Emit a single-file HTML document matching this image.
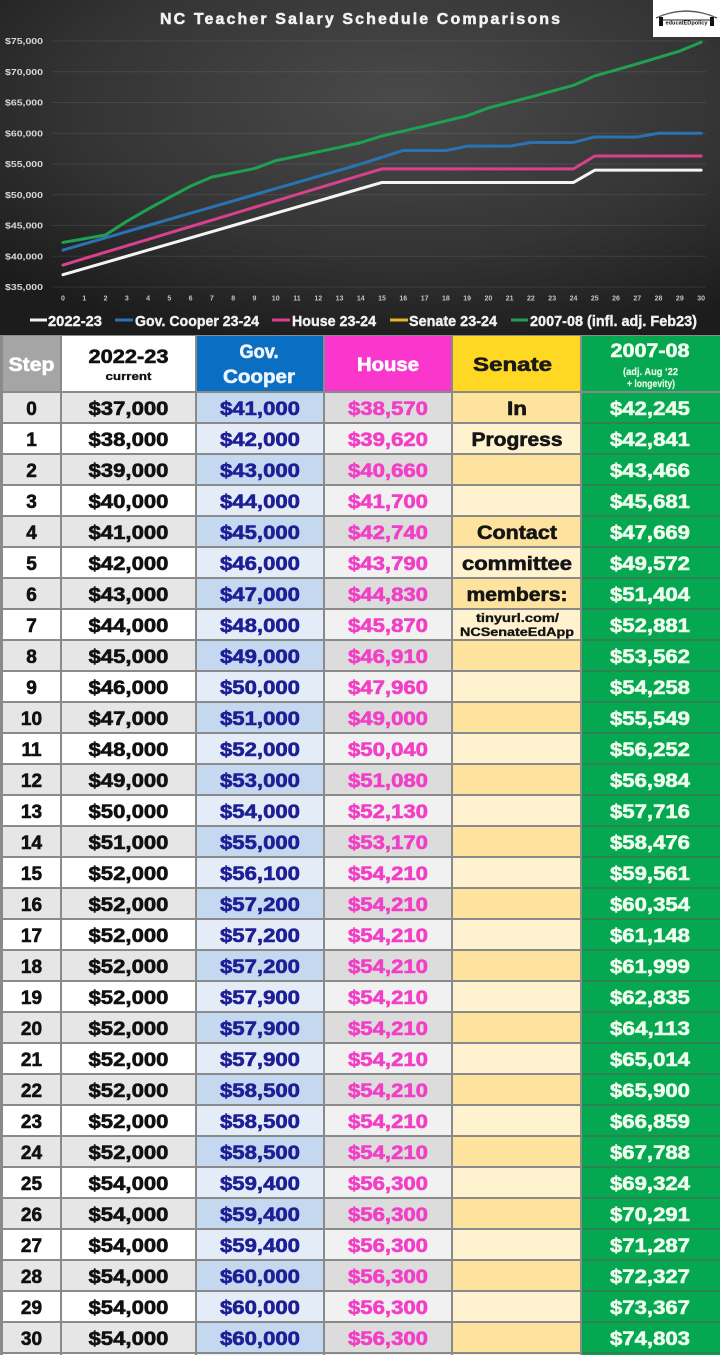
<!DOCTYPE html>
<html><head><meta charset="utf-8"><style>html,body{margin:0;padding:0;background:#2a2a2a}svg{display:block}</style></head><body>
<svg width="720" height="1355" viewBox="0 0 720 1355" xmlns="http://www.w3.org/2000/svg" font-family="'Liberation Sans', Arial, sans-serif" font-weight="bold">
<defs>
<radialGradient id="bg" cx="0.56" cy="0.3" r="0.75">
<stop offset="0" stop-color="#4a4a4a"/><stop offset="0.6" stop-color="#343434"/><stop offset="1" stop-color="#1c1c1c"/>
</radialGradient>
<pattern id="pWhite" patternUnits="userSpaceOnUse" x="0" y="393" width="720" height="62"><rect x="0" y="0" width="720" height="29" fill="#e6e6e6"/><rect x="0" y="31" width="720" height="29" fill="#ffffff"/></pattern>
<pattern id="pCoop" patternUnits="userSpaceOnUse" x="0" y="393" width="720" height="62"><rect x="0" y="0" width="720" height="29" fill="#c4d8ef"/><rect x="0" y="31" width="720" height="29" fill="#e3ecf7"/></pattern>
<pattern id="pHouse" patternUnits="userSpaceOnUse" x="0" y="393" width="720" height="62"><rect x="0" y="0" width="720" height="29" fill="#dcdcdc"/><rect x="0" y="31" width="720" height="29" fill="#f1f1f1"/></pattern>
<pattern id="pSen" patternUnits="userSpaceOnUse" x="0" y="393" width="720" height="62"><rect x="0" y="0" width="720" height="29" fill="#fde39d"/><rect x="0" y="31" width="720" height="29" fill="#fff2cf"/></pattern>
<pattern id="pGreen" patternUnits="userSpaceOnUse" x="0" y="393" width="720" height="31"><rect x="0" y="0" width="720" height="29" fill="#05a750"/><rect x="0" y="29" width="720" height="2" fill="#2e8150"/></pattern>
</defs>

<rect x="0" y="0" width="720" height="336" fill="url(#bg)"/>

<g stroke="#ffffff" stroke-opacity="0.09" stroke-width="1">
<line x1="52" y1="41" x2="706" y2="41"/><line x1="52" y1="71.75" x2="706" y2="71.75"/><line x1="52" y1="102.5" x2="706" y2="102.5"/><line x1="52" y1="133.25" x2="706" y2="133.25"/><line x1="52" y1="164" x2="706" y2="164"/><line x1="52" y1="194.75" x2="706" y2="194.75"/><line x1="52" y1="225.5" x2="706" y2="225.5"/><line x1="52" y1="256.25" x2="706" y2="256.25"/><line x1="52" y1="287" x2="706" y2="287"/>
</g>

<g fill="#d8d8d8" font-size="8">
<text x="5" y="44" textLength="38" lengthAdjust="spacingAndGlyphs">$75,000</text>
<text x="5" y="74.75" textLength="38" lengthAdjust="spacingAndGlyphs">$70,000</text>
<text x="5" y="105.5" textLength="38" lengthAdjust="spacingAndGlyphs">$65,000</text>
<text x="5" y="136.25" textLength="38" lengthAdjust="spacingAndGlyphs">$60,000</text>
<text x="5" y="167" textLength="38" lengthAdjust="spacingAndGlyphs">$55,000</text>
<text x="5" y="197.75" textLength="38" lengthAdjust="spacingAndGlyphs">$50,000</text>
<text x="5" y="228.5" textLength="38" lengthAdjust="spacingAndGlyphs">$45,000</text>
<text x="5" y="259.25" textLength="38" lengthAdjust="spacingAndGlyphs">$40,000</text>
<text x="5" y="290" textLength="38" lengthAdjust="spacingAndGlyphs">$35,000</text>
</g>

<g fill="#c4c4c4" font-size="7" text-anchor="middle">
<text x="63" y="300.5">0</text><text x="84.27" y="300.5">1</text><text x="105.54" y="300.5">2</text><text x="126.81" y="300.5">3</text><text x="148.08" y="300.5">4</text><text x="169.35" y="300.5">5</text><text x="190.62" y="300.5">6</text><text x="211.89" y="300.5">7</text><text x="233.16" y="300.5">8</text><text x="254.43" y="300.5">9</text><text x="275.7" y="300.5">10</text><text x="296.97" y="300.5">11</text><text x="318.24" y="300.5">12</text><text x="339.51" y="300.5">13</text><text x="360.78" y="300.5">14</text><text x="382.05" y="300.5">15</text><text x="403.32" y="300.5">16</text><text x="424.59" y="300.5">17</text><text x="445.86" y="300.5">18</text><text x="467.13" y="300.5">19</text><text x="488.4" y="300.5">20</text><text x="509.67" y="300.5">21</text><text x="530.94" y="300.5">22</text><text x="552.21" y="300.5">23</text><text x="573.48" y="300.5">24</text><text x="594.75" y="300.5">25</text><text x="616.02" y="300.5">26</text><text x="637.29" y="300.5">27</text><text x="658.56" y="300.5">28</text><text x="679.83" y="300.5">29</text><text x="701.1" y="300.5">30</text>
</g>

<g fill="none" stroke-width="3" stroke-linejoin="round" stroke-linecap="round">
<polyline stroke="#f4f4f4" points="63,274.7 84.27,268.55 105.54,262.4 126.81,256.25 148.08,250.1 169.35,243.95 190.62,237.8 211.89,231.65 233.16,225.5 254.43,219.35 275.7,213.2 296.97,207.05 318.24,200.9 339.51,194.75 360.78,188.6 382.05,182.45 403.32,182.45 424.59,182.45 445.86,182.45 467.13,182.45 488.4,182.45 509.67,182.45 530.94,182.45 552.21,182.45 573.48,182.45 594.75,170.15 616.02,170.15 637.29,170.15 658.56,170.15 679.83,170.15 701.1,170.15"/>
<polyline stroke="#d9408e" points="63,265.04 84.27,258.59 105.54,252.19 126.81,245.8 148.08,239.4 169.35,232.94 190.62,226.55 211.89,220.15 233.16,213.75 254.43,207.3 275.7,200.9 296.97,194.5 318.24,188.11 339.51,181.65 360.78,175.25 382.05,168.86 403.32,168.86 424.59,168.86 445.86,168.86 467.13,168.86 488.4,168.86 509.67,168.86 530.94,168.86 552.21,168.86 573.48,168.86 594.75,156 616.02,156 637.29,156 658.56,156 679.83,156 701.1,156"/>
<polyline stroke="#2b72b4" points="63,250.1 84.27,243.95 105.54,237.8 126.81,231.65 148.08,225.5 169.35,219.35 190.62,213.2 211.89,207.05 233.16,200.9 254.43,194.75 275.7,188.6 296.97,182.45 318.24,176.3 339.51,170.15 360.78,164 382.05,157.23 403.32,150.47 424.59,150.47 445.86,150.47 467.13,146.17 488.4,146.17 509.67,146.17 530.94,142.48 552.21,142.48 573.48,142.48 594.75,136.94 616.02,136.94 637.29,136.94 658.56,133.25 679.83,133.25 701.1,133.25"/>
<polyline stroke="#1fa152" points="63,242.44 84.27,238.78 105.54,234.93 126.81,221.31 148.08,209.09 169.35,197.38 190.62,186.12 211.89,177.03 233.16,172.84 254.43,168.56 275.7,160.62 296.97,156.3 318.24,151.8 339.51,147.3 360.78,142.62 382.05,135.95 403.32,131.07 424.59,126.19 445.86,120.96 467.13,115.81 488.4,107.96 509.67,102.41 530.94,96.96 552.21,91.07 573.48,85.35 594.75,75.91 616.02,69.96 637.29,63.83 658.56,57.44 679.83,51.04 701.1,42.21"/>
</g>

<text x="360" y="24" fill="#f2f2f2" stroke="#f2f2f2" stroke-width="0.5" font-size="16" text-anchor="middle" textLength="400" lengthAdjust="spacing">NC Teacher Salary Schedule Comparisons</text>

<rect x="653" y="0" width="67" height="37" fill="#ffffff"/>
<path d="M656,18 Q686,4 717,18" fill="none" stroke="#333" stroke-width="1.2"/>
<path d="M658,17 Q686,6 715,17" fill="none" stroke="#777" stroke-width="0.8"/>
<rect x="659" y="17" width="4" height="9" fill="#111"/>
<rect x="710" y="17" width="4" height="9" fill="#111"/>
<line x1="659" y1="20" x2="714" y2="20" stroke="#222" stroke-width="1"/>
<text x="686.5" y="24.5" fill="#111" font-size="5" text-anchor="middle" textLength="42" lengthAdjust="spacingAndGlyphs">educatEDpolicy</text>

<g stroke-width="3">
<line x1="30" y1="320" x2="47" y2="320" stroke="#f4f4f4"/>
<line x1="115" y1="320" x2="133" y2="320" stroke="#2b72b4"/>
<line x1="272" y1="320" x2="290" y2="320" stroke="#d9408e"/>
<line x1="390" y1="320" x2="408" y2="320" stroke="#e3b52a"/>
<line x1="511" y1="320" x2="528" y2="320" stroke="#1fa152"/>
</g>
<g fill="#f0f0f0" stroke="#f0f0f0" stroke-width="0.4" font-size="15">
<text x="48" y="326" textLength="54" lengthAdjust="spacingAndGlyphs">2022-23</text>
<text x="135" y="326" textLength="124" lengthAdjust="spacingAndGlyphs">Gov. Cooper 23-24</text>
<text x="292" y="326" textLength="84" lengthAdjust="spacingAndGlyphs">House 23-24</text>
<text x="409" y="326" textLength="88" lengthAdjust="spacingAndGlyphs">Senate 23-24</text>
<text x="530" y="326" textLength="167" lengthAdjust="spacingAndGlyphs">2007-08 (infl. adj. Feb23)</text>
</g>

<rect x="0" y="335" width="720" height="1020" fill="#8a8a8a"/>
<rect x="3" y="336" width="57" height="55" fill="#a5a5a5"/>
<rect x="62" y="336" width="133" height="55" fill="#ffffff"/>
<rect x="197" y="336" width="126" height="55" fill="#0a6fc2"/>
<rect x="325" y="336" width="126" height="55" fill="#fb36cc"/>
<rect x="453" y="336" width="127" height="55" fill="#fed823"/>
<rect x="582" y="336" width="138" height="55" fill="#05a750"/>
<rect x="3" y="393" width="57" height="962" fill="url(#pWhite)"/>
<rect x="62" y="393" width="133" height="962" fill="url(#pWhite)"/>
<rect x="197" y="393" width="126" height="962" fill="url(#pCoop)"/>
<rect x="325" y="393" width="126" height="962" fill="url(#pHouse)"/>
<rect x="453" y="393" width="127" height="962" fill="url(#pSen)"/>
<rect x="582" y="393" width="138" height="962" fill="url(#pGreen)"/>

<g font-size="19" text-anchor="middle" stroke-width="0.6">
<text x="31.5" y="371" fill="#ffffff" stroke="#ffffff" textLength="46" lengthAdjust="spacingAndGlyphs">Step</text>
<text x="128.5" y="363" fill="#111" stroke="#111" textLength="80" lengthAdjust="spacingAndGlyphs">2022-23</text>
<text x="128.5" y="380" fill="#111" stroke="#111" stroke-width="0.3" font-size="11" textLength="46" lengthAdjust="spacingAndGlyphs">current</text>
<text x="259" y="358" fill="#eef4fb" stroke="#eef4fb" textLength="39" lengthAdjust="spacingAndGlyphs">Gov.</text>
<text x="259" y="383" fill="#eef4fb" stroke="#eef4fb" textLength="72" lengthAdjust="spacingAndGlyphs">Cooper</text>
<text x="388" y="371" fill="#ffffff" stroke="#ffffff" textLength="62" lengthAdjust="spacingAndGlyphs">House</text>
<text x="512.5" y="371" fill="#1a1a1a" stroke="#1a1a1a" textLength="79" lengthAdjust="spacingAndGlyphs">Senate</text>
<text x="650" y="357" fill="#f0fff0" stroke="#f0fff0" textLength="79" lengthAdjust="spacingAndGlyphs">2007-08</text>
<text x="650.5" y="375" fill="#e8f8e8" stroke="#e8f8e8" stroke-width="0.2" font-size="10" textLength="55" lengthAdjust="spacingAndGlyphs">(adj. Aug ‘22</text>
<text x="651" y="387" fill="#e8f8e8" stroke="#e8f8e8" stroke-width="0.2" font-size="10" textLength="48" lengthAdjust="spacingAndGlyphs">+ longevity)</text>
</g>

<g font-size="19" text-anchor="middle" fill="#111" stroke="#111" stroke-width="0.6">
<text x="31.5" y="415">0</text><text x="31.5" y="446">1</text><text x="31.5" y="477">2</text><text x="31.5" y="508">3</text><text x="31.5" y="539">4</text><text x="31.5" y="570">5</text><text x="31.5" y="601">6</text><text x="31.5" y="632">7</text><text x="31.5" y="663">8</text><text x="31.5" y="694">9</text><text x="31.5" y="725">10</text><text x="31.5" y="756">11</text><text x="31.5" y="787">12</text><text x="31.5" y="818">13</text><text x="31.5" y="849">14</text><text x="31.5" y="880">15</text><text x="31.5" y="911">16</text><text x="31.5" y="942">17</text><text x="31.5" y="973">18</text><text x="31.5" y="1004">19</text><text x="31.5" y="1035">20</text><text x="31.5" y="1066">21</text><text x="31.5" y="1097">22</text><text x="31.5" y="1128">23</text><text x="31.5" y="1159">24</text><text x="31.5" y="1190">25</text><text x="31.5" y="1221">26</text><text x="31.5" y="1252">27</text><text x="31.5" y="1283">28</text><text x="31.5" y="1314">29</text><text x="31.5" y="1345">30</text>
</g>

<g font-size="19" text-anchor="middle" fill="#111" stroke="#111" stroke-width="0.6">
<text x="128.5" y="415" textLength="80" lengthAdjust="spacingAndGlyphs">$37,000</text>
<text x="128.5" y="446" textLength="80" lengthAdjust="spacingAndGlyphs">$38,000</text>
<text x="128.5" y="477" textLength="80" lengthAdjust="spacingAndGlyphs">$39,000</text>
<text x="128.5" y="508" textLength="80" lengthAdjust="spacingAndGlyphs">$40,000</text>
<text x="128.5" y="539" textLength="80" lengthAdjust="spacingAndGlyphs">$41,000</text>
<text x="128.5" y="570" textLength="80" lengthAdjust="spacingAndGlyphs">$42,000</text>
<text x="128.5" y="601" textLength="80" lengthAdjust="spacingAndGlyphs">$43,000</text>
<text x="128.5" y="632" textLength="80" lengthAdjust="spacingAndGlyphs">$44,000</text>
<text x="128.5" y="663" textLength="80" lengthAdjust="spacingAndGlyphs">$45,000</text>
<text x="128.5" y="694" textLength="80" lengthAdjust="spacingAndGlyphs">$46,000</text>
<text x="128.5" y="725" textLength="80" lengthAdjust="spacingAndGlyphs">$47,000</text>
<text x="128.5" y="756" textLength="80" lengthAdjust="spacingAndGlyphs">$48,000</text>
<text x="128.5" y="787" textLength="80" lengthAdjust="spacingAndGlyphs">$49,000</text>
<text x="128.5" y="818" textLength="80" lengthAdjust="spacingAndGlyphs">$50,000</text>
<text x="128.5" y="849" textLength="80" lengthAdjust="spacingAndGlyphs">$51,000</text>
<text x="128.5" y="880" textLength="80" lengthAdjust="spacingAndGlyphs">$52,000</text>
<text x="128.5" y="911" textLength="80" lengthAdjust="spacingAndGlyphs">$52,000</text>
<text x="128.5" y="942" textLength="80" lengthAdjust="spacingAndGlyphs">$52,000</text>
<text x="128.5" y="973" textLength="80" lengthAdjust="spacingAndGlyphs">$52,000</text>
<text x="128.5" y="1004" textLength="80" lengthAdjust="spacingAndGlyphs">$52,000</text>
<text x="128.5" y="1035" textLength="80" lengthAdjust="spacingAndGlyphs">$52,000</text>
<text x="128.5" y="1066" textLength="80" lengthAdjust="spacingAndGlyphs">$52,000</text>
<text x="128.5" y="1097" textLength="80" lengthAdjust="spacingAndGlyphs">$52,000</text>
<text x="128.5" y="1128" textLength="80" lengthAdjust="spacingAndGlyphs">$52,000</text>
<text x="128.5" y="1159" textLength="80" lengthAdjust="spacingAndGlyphs">$52,000</text>
<text x="128.5" y="1190" textLength="80" lengthAdjust="spacingAndGlyphs">$54,000</text>
<text x="128.5" y="1221" textLength="80" lengthAdjust="spacingAndGlyphs">$54,000</text>
<text x="128.5" y="1252" textLength="80" lengthAdjust="spacingAndGlyphs">$54,000</text>
<text x="128.5" y="1283" textLength="80" lengthAdjust="spacingAndGlyphs">$54,000</text>
<text x="128.5" y="1314" textLength="80" lengthAdjust="spacingAndGlyphs">$54,000</text>
<text x="128.5" y="1345" textLength="80" lengthAdjust="spacingAndGlyphs">$54,000</text>
</g>

<g font-size="19" text-anchor="middle" fill="#1e1e96" stroke="#1e1e96" stroke-width="0.6">
<text x="260" y="415" textLength="80" lengthAdjust="spacingAndGlyphs">$41,000</text>
<text x="260" y="446" textLength="80" lengthAdjust="spacingAndGlyphs">$42,000</text>
<text x="260" y="477" textLength="80" lengthAdjust="spacingAndGlyphs">$43,000</text>
<text x="260" y="508" textLength="80" lengthAdjust="spacingAndGlyphs">$44,000</text>
<text x="260" y="539" textLength="80" lengthAdjust="spacingAndGlyphs">$45,000</text>
<text x="260" y="570" textLength="80" lengthAdjust="spacingAndGlyphs">$46,000</text>
<text x="260" y="601" textLength="80" lengthAdjust="spacingAndGlyphs">$47,000</text>
<text x="260" y="632" textLength="80" lengthAdjust="spacingAndGlyphs">$48,000</text>
<text x="260" y="663" textLength="80" lengthAdjust="spacingAndGlyphs">$49,000</text>
<text x="260" y="694" textLength="80" lengthAdjust="spacingAndGlyphs">$50,000</text>
<text x="260" y="725" textLength="80" lengthAdjust="spacingAndGlyphs">$51,000</text>
<text x="260" y="756" textLength="80" lengthAdjust="spacingAndGlyphs">$52,000</text>
<text x="260" y="787" textLength="80" lengthAdjust="spacingAndGlyphs">$53,000</text>
<text x="260" y="818" textLength="80" lengthAdjust="spacingAndGlyphs">$54,000</text>
<text x="260" y="849" textLength="80" lengthAdjust="spacingAndGlyphs">$55,000</text>
<text x="260" y="880" textLength="80" lengthAdjust="spacingAndGlyphs">$56,100</text>
<text x="260" y="911" textLength="80" lengthAdjust="spacingAndGlyphs">$57,200</text>
<text x="260" y="942" textLength="80" lengthAdjust="spacingAndGlyphs">$57,200</text>
<text x="260" y="973" textLength="80" lengthAdjust="spacingAndGlyphs">$57,200</text>
<text x="260" y="1004" textLength="80" lengthAdjust="spacingAndGlyphs">$57,900</text>
<text x="260" y="1035" textLength="80" lengthAdjust="spacingAndGlyphs">$57,900</text>
<text x="260" y="1066" textLength="80" lengthAdjust="spacingAndGlyphs">$57,900</text>
<text x="260" y="1097" textLength="80" lengthAdjust="spacingAndGlyphs">$58,500</text>
<text x="260" y="1128" textLength="80" lengthAdjust="spacingAndGlyphs">$58,500</text>
<text x="260" y="1159" textLength="80" lengthAdjust="spacingAndGlyphs">$58,500</text>
<text x="260" y="1190" textLength="80" lengthAdjust="spacingAndGlyphs">$59,400</text>
<text x="260" y="1221" textLength="80" lengthAdjust="spacingAndGlyphs">$59,400</text>
<text x="260" y="1252" textLength="80" lengthAdjust="spacingAndGlyphs">$59,400</text>
<text x="260" y="1283" textLength="80" lengthAdjust="spacingAndGlyphs">$60,000</text>
<text x="260" y="1314" textLength="80" lengthAdjust="spacingAndGlyphs">$60,000</text>
<text x="260" y="1345" textLength="80" lengthAdjust="spacingAndGlyphs">$60,000</text>
</g>

<g font-size="19" text-anchor="middle" fill="#f23fc6" stroke="#f23fc6" stroke-width="0.6">
<text x="388" y="415" textLength="80" lengthAdjust="spacingAndGlyphs">$38,570</text>
<text x="388" y="446" textLength="80" lengthAdjust="spacingAndGlyphs">$39,620</text>
<text x="388" y="477" textLength="80" lengthAdjust="spacingAndGlyphs">$40,660</text>
<text x="388" y="508" textLength="80" lengthAdjust="spacingAndGlyphs">$41,700</text>
<text x="388" y="539" textLength="80" lengthAdjust="spacingAndGlyphs">$42,740</text>
<text x="388" y="570" textLength="80" lengthAdjust="spacingAndGlyphs">$43,790</text>
<text x="388" y="601" textLength="80" lengthAdjust="spacingAndGlyphs">$44,830</text>
<text x="388" y="632" textLength="80" lengthAdjust="spacingAndGlyphs">$45,870</text>
<text x="388" y="663" textLength="80" lengthAdjust="spacingAndGlyphs">$46,910</text>
<text x="388" y="694" textLength="80" lengthAdjust="spacingAndGlyphs">$47,960</text>
<text x="388" y="725" textLength="80" lengthAdjust="spacingAndGlyphs">$49,000</text>
<text x="388" y="756" textLength="80" lengthAdjust="spacingAndGlyphs">$50,040</text>
<text x="388" y="787" textLength="80" lengthAdjust="spacingAndGlyphs">$51,080</text>
<text x="388" y="818" textLength="80" lengthAdjust="spacingAndGlyphs">$52,130</text>
<text x="388" y="849" textLength="80" lengthAdjust="spacingAndGlyphs">$53,170</text>
<text x="388" y="880" textLength="80" lengthAdjust="spacingAndGlyphs">$54,210</text>
<text x="388" y="911" textLength="80" lengthAdjust="spacingAndGlyphs">$54,210</text>
<text x="388" y="942" textLength="80" lengthAdjust="spacingAndGlyphs">$54,210</text>
<text x="388" y="973" textLength="80" lengthAdjust="spacingAndGlyphs">$54,210</text>
<text x="388" y="1004" textLength="80" lengthAdjust="spacingAndGlyphs">$54,210</text>
<text x="388" y="1035" textLength="80" lengthAdjust="spacingAndGlyphs">$54,210</text>
<text x="388" y="1066" textLength="80" lengthAdjust="spacingAndGlyphs">$54,210</text>
<text x="388" y="1097" textLength="80" lengthAdjust="spacingAndGlyphs">$54,210</text>
<text x="388" y="1128" textLength="80" lengthAdjust="spacingAndGlyphs">$54,210</text>
<text x="388" y="1159" textLength="80" lengthAdjust="spacingAndGlyphs">$54,210</text>
<text x="388" y="1190" textLength="80" lengthAdjust="spacingAndGlyphs">$56,300</text>
<text x="388" y="1221" textLength="80" lengthAdjust="spacingAndGlyphs">$56,300</text>
<text x="388" y="1252" textLength="80" lengthAdjust="spacingAndGlyphs">$56,300</text>
<text x="388" y="1283" textLength="80" lengthAdjust="spacingAndGlyphs">$56,300</text>
<text x="388" y="1314" textLength="80" lengthAdjust="spacingAndGlyphs">$56,300</text>
<text x="388" y="1345" textLength="80" lengthAdjust="spacingAndGlyphs">$56,300</text>
</g>

<g font-size="19" text-anchor="middle" fill="#151515" stroke="#151515" stroke-width="0.6">
<text x="517" y="415" textLength="20" lengthAdjust="spacingAndGlyphs">In</text>
<text x="517" y="446" textLength="91" lengthAdjust="spacingAndGlyphs">Progress</text>
<text x="517" y="539" textLength="80" lengthAdjust="spacingAndGlyphs">Contact</text>
<text x="517" y="570" textLength="110" lengthAdjust="spacingAndGlyphs">committee</text>
<text x="517" y="601" textLength="101" lengthAdjust="spacingAndGlyphs">members:</text>
<text x="517.5" y="622" font-size="12" stroke-width="0.35" textLength="83" lengthAdjust="spacingAndGlyphs">tinyurl.com/</text>
<text x="517" y="636" font-size="12" stroke-width="0.35" textLength="114" lengthAdjust="spacingAndGlyphs">NCSenateEdApp</text>
</g>

<g font-size="19" text-anchor="middle" fill="#eefcee" stroke="#eefcee" stroke-width="0.6">
<text x="650" y="415" textLength="80" lengthAdjust="spacingAndGlyphs">$42,245</text>
<text x="650" y="446" textLength="80" lengthAdjust="spacingAndGlyphs">$42,841</text>
<text x="650" y="477" textLength="80" lengthAdjust="spacingAndGlyphs">$43,466</text>
<text x="650" y="508" textLength="80" lengthAdjust="spacingAndGlyphs">$45,681</text>
<text x="650" y="539" textLength="80" lengthAdjust="spacingAndGlyphs">$47,669</text>
<text x="650" y="570" textLength="80" lengthAdjust="spacingAndGlyphs">$49,572</text>
<text x="650" y="601" textLength="80" lengthAdjust="spacingAndGlyphs">$51,404</text>
<text x="650" y="632" textLength="80" lengthAdjust="spacingAndGlyphs">$52,881</text>
<text x="650" y="663" textLength="80" lengthAdjust="spacingAndGlyphs">$53,562</text>
<text x="650" y="694" textLength="80" lengthAdjust="spacingAndGlyphs">$54,258</text>
<text x="650" y="725" textLength="80" lengthAdjust="spacingAndGlyphs">$55,549</text>
<text x="650" y="756" textLength="80" lengthAdjust="spacingAndGlyphs">$56,252</text>
<text x="650" y="787" textLength="80" lengthAdjust="spacingAndGlyphs">$56,984</text>
<text x="650" y="818" textLength="80" lengthAdjust="spacingAndGlyphs">$57,716</text>
<text x="650" y="849" textLength="80" lengthAdjust="spacingAndGlyphs">$58,476</text>
<text x="650" y="880" textLength="80" lengthAdjust="spacingAndGlyphs">$59,561</text>
<text x="650" y="911" textLength="80" lengthAdjust="spacingAndGlyphs">$60,354</text>
<text x="650" y="942" textLength="80" lengthAdjust="spacingAndGlyphs">$61,148</text>
<text x="650" y="973" textLength="80" lengthAdjust="spacingAndGlyphs">$61,999</text>
<text x="650" y="1004" textLength="80" lengthAdjust="spacingAndGlyphs">$62,835</text>
<text x="650" y="1035" textLength="80" lengthAdjust="spacingAndGlyphs">$64,113</text>
<text x="650" y="1066" textLength="80" lengthAdjust="spacingAndGlyphs">$65,014</text>
<text x="650" y="1097" textLength="80" lengthAdjust="spacingAndGlyphs">$65,900</text>
<text x="650" y="1128" textLength="80" lengthAdjust="spacingAndGlyphs">$66,859</text>
<text x="650" y="1159" textLength="80" lengthAdjust="spacingAndGlyphs">$67,788</text>
<text x="650" y="1190" textLength="80" lengthAdjust="spacingAndGlyphs">$69,324</text>
<text x="650" y="1221" textLength="80" lengthAdjust="spacingAndGlyphs">$70,291</text>
<text x="650" y="1252" textLength="80" lengthAdjust="spacingAndGlyphs">$71,287</text>
<text x="650" y="1283" textLength="80" lengthAdjust="spacingAndGlyphs">$72,327</text>
<text x="650" y="1314" textLength="80" lengthAdjust="spacingAndGlyphs">$73,367</text>
<text x="650" y="1345" textLength="80" lengthAdjust="spacingAndGlyphs">$74,803</text>
</g>
</svg>
</body></html>
